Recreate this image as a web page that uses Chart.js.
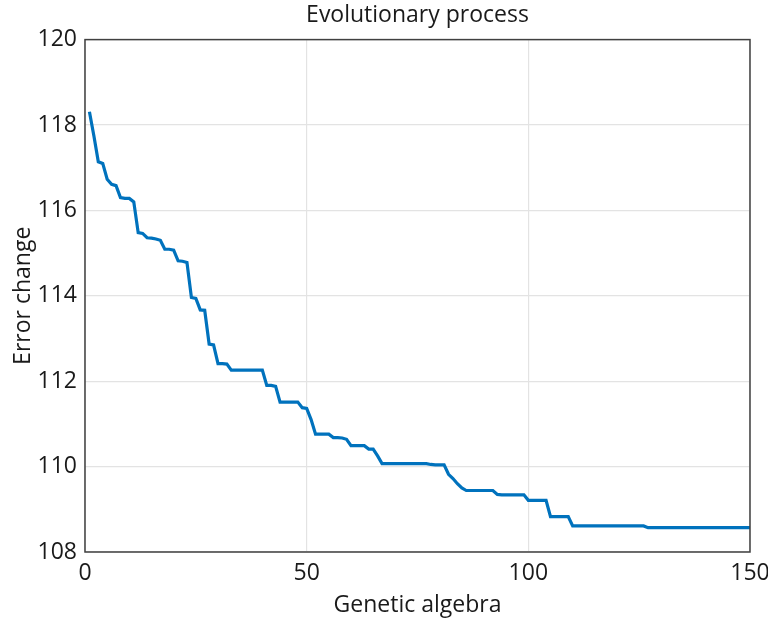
<!DOCTYPE html>
<html>
<head>
<meta charset="utf-8">
<script src="https://cdn.jsdelivr.net/npm/chart.js@4/dist/chart.umd.min.js"></script>
<style>
  html, body { margin: 0; padding: 0; background: #fff; }
  #wrap { width: 768px; height: 620px; }
</style>
</head>
<body>
<div id="wrap"><canvas id="evo"></canvas></div>
<script>
// generation index (1..150) and best error per generation
const generations = Array.from({length: 150}, (_, i) => i + 1);
const errorValues = [
  118.31, 117.75, 117.14, 117.10, 116.73, 116.61, 116.58, 116.30, 116.28, 116.28,
  116.20, 115.48, 115.46, 115.36, 115.35, 115.33, 115.30, 115.09, 115.09, 115.07,
  114.82, 114.81, 114.78, 113.96, 113.94, 113.67, 113.66, 112.87, 112.85, 112.41,
  112.41, 112.40, 112.26, 112.26, 112.26, 112.26, 112.26, 112.26, 112.26, 112.26,
  111.90, 111.90, 111.88, 111.51, 111.51, 111.51, 111.51, 111.51, 111.38, 111.36,
  111.10, 110.76, 110.76, 110.76, 110.76, 110.68, 110.68, 110.67, 110.64, 110.49,
  110.49, 110.49, 110.49, 110.41, 110.41, 110.25, 110.07, 110.07, 110.07, 110.07,
  110.07, 110.07, 110.07, 110.07, 110.07, 110.07, 110.07, 110.05, 110.04, 110.04,
  110.04, 109.82, 109.72, 109.60, 109.50, 109.44, 109.44, 109.44, 109.44, 109.44,
  109.44, 109.44, 109.35, 109.34, 109.34, 109.34, 109.34, 109.34, 109.34, 109.21,
  109.21, 109.21, 109.21, 109.21, 108.83, 108.83, 108.83, 108.83, 108.83, 108.61,
  108.61, 108.61, 108.61, 108.61, 108.61, 108.61, 108.61, 108.61, 108.61, 108.61,
  108.61, 108.61, 108.61, 108.61, 108.61, 108.61, 108.57, 108.57, 108.57, 108.57,
  108.57, 108.57, 108.57, 108.57, 108.57, 108.57, 108.57, 108.57, 108.57, 108.57,
  108.57, 108.57, 108.57, 108.57, 108.57, 108.57, 108.57, 108.57, 108.57, 108.57
];
const xTicks = [0, 50, 100, 150];
const yTicks = [108, 110, 112, 114, 116, 118, 120];

const FONT = "'Open Sans', 'Liberation Sans', sans-serif";
const INK = '#1a1a1a';

// matlab-style closed box round the axes
const boxPlugin = {
  id: 'axesBox',
  afterDraw(chart) {
    const {ctx, chartArea: a} = chart;
    ctx.save();
    ctx.strokeStyle = '#404040';
    ctx.lineWidth = 1.5;
    ctx.strokeRect(a.left, a.top, a.right - a.left, a.bottom - a.top);
    ctx.restore();
  }
};

new Chart(document.getElementById('evo'), {
  type: 'line',
  data: {
    datasets: [{
      label: 'Error change',
      data: generations.map((g, i) => ({x: g, y: errorValues[i]})),
      borderColor: '#0072BD',
      borderWidth: 3.2,
      pointRadius: 0,
      tension: 0,
      fill: false,
    }]
  },
  options: {
    responsive: true,
    maintainAspectRatio: false,
    animation: false,
    layout: {padding: {left: 0, right: 18, top: 0, bottom: 0}},
    plugins: {
      legend: {display: false},
      tooltip: {enabled: false},
      title: {
        display: true,
        text: 'Evolutionary process',
        fullSize: false,
        color: INK,
        font: {family: FONT, size: 23, weight: 'normal'},
        padding: {top: 2, bottom: 10}
      }
    },
    scales: {
      x: {
        type: 'linear',
        min: 0, max: 150,
        afterBuildTicks: s => { s.ticks = xTicks.map(v => ({value: v})); },
        afterFit: s => { s.height = 68; s.paddingLeft = 0; s.paddingRight = 0; },
        grid: {color: '#e3e3e3', lineWidth: 1.2, drawTicks: false},
        border: {display: false},
        ticks: {color: INK, padding: 8, font: {family: FONT, size: 23}},
        title: {display: true, text: 'Genetic algebra', color: INK,
                font: {family: FONT, size: 23}, padding: {top: 0, bottom: 1}}
      },
      y: {
        type: 'linear',
        min: 108, max: 120,
        afterBuildTicks: s => { s.ticks = yTicks.map(v => ({value: v})); },
        afterFit: s => { s.width = 85; s.paddingTop = 0; s.paddingBottom = 0; },
        grid: {color: '#e3e3e3', lineWidth: 1.2, drawTicks: false},
        border: {display: false},
        ticks: {color: INK, padding: 8, font: {family: FONT, size: 23}},
        title: {display: true, text: 'Error change', color: INK,
                font: {family: FONT, size: 23}, padding: {top: 10, bottom: 0}}
      }
    }
  },
  plugins: [boxPlugin]
});
</script>
</body>
</html>
